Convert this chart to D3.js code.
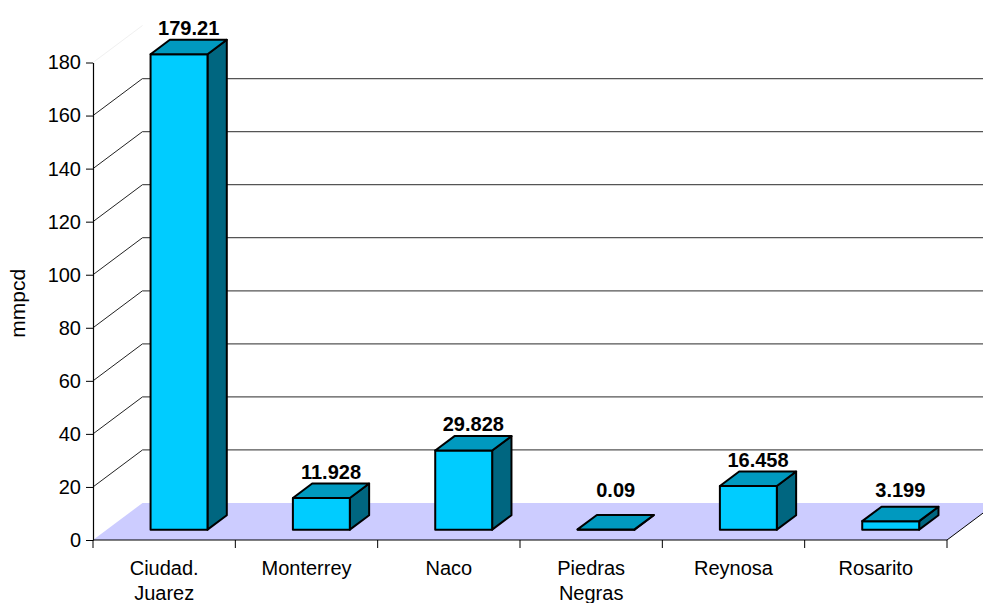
<!DOCTYPE html>
<html>
<head>
<meta charset="utf-8">
<script src="https://cdn.jsdelivr.net/npm/d3@7/dist/d3.min.js"></script>
<style>
  html, body { margin: 0; padding: 0; background: #fff; }
  svg { display: block; }
  text { font-family: Arial, "Liberation Sans", sans-serif; fill: #000; }
</style>
</head>
<body>
<svg id="chart" width="983" height="603"></svg>
<script>
// Gas volumes by border point (mmpcd)
const categories = ["Ciudad. Juarez", "Monterrey", "Naco", "Piedras Negras", "Reynosa", "Rosarito"];
const categoryLines = [["Ciudad.", "Juarez"], ["Monterrey"], ["Naco"], ["Piedras", "Negras"], ["Reynosa"], ["Rosarito"]];
const values = [179.21, 11.928, 29.828, 0.09, 16.458, 3.199];
const valueLabels = ["179.21", "11.928", "29.828", "0.09", "16.458", "3.199"];
const yTicks = [0, 20, 40, 60, 80, 100, 120, 140, 160, 180];
const yTitle = "mmpcd";

const W = 983, H = 603;
const FONT = "Arial, 'Liberation Sans', sans-serif";
const svg = d3.select("#chart");

// front plane of the 3D box
const x0 = 93, x1 = 947, yBase = 540, yMax = 62.5;
// depth offset of the back wall
const DX = 49.5, DY = 37;
// bar depth span (fraction of floor depth)
const zFront = 0.28, zBack = 0.67;

const x = d3.scaleBand().domain(categories).range([x0, x1]);
const y = d3.scaleLinear().domain([0, 180]).range([yBase, yMax]);

// project a front-plane point back into the scene by depth fraction z
const P = (px, py, z) => [px + z * DX, py - z * DY];
const pts = arr => arr.map(p => p.join(",")).join(" ");

svg.append("defs").append("clipPath").attr("id", "plotClip")
  .append("rect").attr("x", 0).attr("y", 0).attr("width", W).attr("height", H);

const scene = svg.append("g").attr("clip-path", "url(#plotClip)");

// floor
scene.append("polygon")
  .attr("points", pts([P(x0, yBase, 0), P(x1, yBase, 0), P(x1, yBase, 1), P(x0, yBase, 1)]))
  .attr("fill", "#ccccff");
scene.append("line")
  .attr("x1", x1).attr("y1", yBase)
  .attr("x2", x1 + DX).attr("y2", yBase - DY)
  .attr("stroke", "#000").attr("stroke-width", 1);

// back-wall gridlines and side-wall diagonals
const gridVals = yTicks.filter(v => v > 0 && v < 180);
scene.selectAll("line.grid").data(gridVals).join("line")
  .attr("class", "grid")
  .attr("x1", x0 + DX).attr("x2", x1 + DX)
  .attr("y1", d => y(d) - DY).attr("y2", d => y(d) - DY)
  .attr("stroke", "#555").attr("stroke-width", 1.2);
scene.selectAll("line.diag").data(yTicks.filter(v => v > 0)).join("line")
  .attr("class", "diag")
  .attr("x1", x0).attr("y1", d => y(d))
  .attr("x2", x0 + DX).attr("y2", d => y(d) - DY)
  .attr("stroke", d => d === 180 ? "#f0f0f0" : "#222").attr("stroke-width", 1);

// bars
const bw = x.bandwidth() * 0.4;
const bars = scene.selectAll("g.bar").data(categories.map((c, i) => ({ c, v: values[i], label: valueLabels[i] })))
  .join("g").attr("class", "bar");

bars.each(function(d) {
  const g = d3.select(this);
  const cx = x(d.c) + x.bandwidth() / 2 + 1;
  const xa = cx - bw / 2, xb = cx + bw / 2;
  const yv = y(d.v), y0 = y(0);
  const add = (points, fill) => g.append("polygon")
    .attr("points", pts(points)).attr("fill", fill)
    .attr("stroke", "#000").attr("stroke-width", 2).attr("stroke-linejoin", "round");
  // side
  add([P(xb, yv, zFront), P(xb, y0, zFront), P(xb, y0, zBack), P(xb, yv, zBack)], "#006680");
  // front
  add([P(xa, yv, zFront), P(xb, yv, zFront), P(xb, y0, zFront), P(xa, y0, zFront)], "#00ccff");
  // top
  add([P(xa, yv, zFront), P(xb, yv, zFront), P(xb, yv, zBack), P(xa, yv, zBack)], "#0099bf");

  // value label above the bar
  const mid = P(cx, yv, (zFront + zBack) / 2);
  const topBack = P(cx, yv, zBack)[1];
  g.append("text")
    .attr("x", mid[0])
    .attr("y", Math.min(topBack - 5, 497))
    .attr("text-anchor", "middle")
    .attr("font-size", 20)
    .attr("font-weight", "bold")
    .text(d.label);
});

// y axis
const yAxis = d3.axisLeft(y).tickValues(yTicks).tickSize(7).tickSizeOuter(0).tickPadding(5);
const gy = svg.append("g").attr("transform", `translate(${x0},0)`).call(yAxis);
gy.select(".domain").attr("stroke", "#000").attr("stroke-width", 1.2);
gy.selectAll(".tick line").attr("stroke", "#000");
gy.selectAll(".tick text").attr("font-size", 20).attr("font-family", FONT).attr("fill", "#000");

// x axis: baseline with ticks at category boundaries
svg.append("line")
  .attr("x1", x0).attr("x2", x1).attr("y1", yBase).attr("y2", yBase)
  .attr("stroke", "#000").attr("stroke-width", 1.2);
const bounds = categories.map(c => x(c)).concat([x1]);
svg.selectAll("line.xtick").data(bounds).join("line")
  .attr("class", "xtick")
  .attr("x1", d => d).attr("x2", d => d)
  .attr("y1", yBase).attr("y2", yBase + 8)
  .attr("stroke", "#000");

const xl = svg.selectAll("text.xlab").data(categories).join("text")
  .attr("class", "xlab")
  .attr("text-anchor", "middle")
  .attr("font-size", 20)
  .attr("x", d => x(d) + x.bandwidth() / 2)
  .attr("y", 575);
xl.each(function(d, i) {
  const t = d3.select(this);
  categoryLines[i].forEach((line, j) => {
    t.append("tspan")
      .attr("x", x(d) + x.bandwidth() / 2)
      .attr("dy", j === 0 ? 0 : 25)
      .text(line);
  });
});

// y axis title
svg.append("text")
  .attr("transform", `translate(25,${(yBase + yMax) / 2 + 2}) rotate(-90)`)
  .attr("text-anchor", "middle")
  .attr("font-size", 21)
  .text(yTitle);
</script>
</body>
</html>
